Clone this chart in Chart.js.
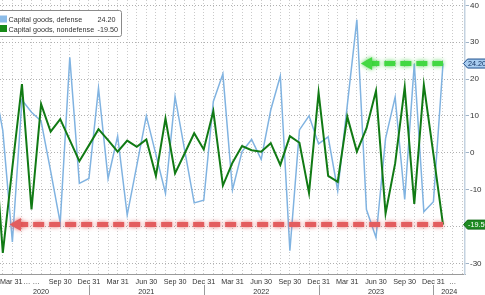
<!DOCTYPE html>
<html><head><meta charset="utf-8">
<script src="https://cdn.jsdelivr.net/npm/chart.js@4"></script>
<style>html,body{margin:0;padding:0;background:#fff;overflow:hidden}</style>
</head><body>
<canvas id="c" width="485" height="295"></canvas>
<script>
// ---- data ----
const months = ["2020-02","2020-03","2020-04","2020-05","2020-06","2020-07","2020-08","2020-09","2020-10","2020-11","2020-12",
"2021-01","2021-02","2021-03","2021-04","2021-05","2021-06","2021-07","2021-08","2021-09","2021-10","2021-11","2021-12",
"2022-01","2022-02","2022-03","2022-04","2022-05","2022-06","2022-07","2022-08","2022-09","2022-10","2022-11","2022-12",
"2023-01","2023-02","2023-03","2023-04","2023-05","2023-06","2023-07","2023-08","2023-09","2023-10","2023-11","2023-12",
"2024-01"];
const defense = [20, 6, -24.2, 14.3, 11, 8.6, -5, -19, 25.9, -8.3, -7,
  17.5, -7, 4.5, -16.9, -3.5, 10, -0.5, -11, 15.2, 0.8, -13.6, -12.9,
  13.9, 21.4, -10.1, 0.3, 3.6, -1.8, 11.6, 20.8, -26.6, 6.2, 10, 2.4,
  4.3, -10.3, 12.9, 36.1, -15.4, -23, 3.9, 15.1, -12.7, 24.1, -16, -13.3,
  24.2];
const nondefense = [9, -27.2, -4, 18.6, -15.4, 13.2, 5.7, 9.1, 3.4, -2.3, 2.0,
  6.4, 3.4, 0.3, 3.3, 1.6, 3.6, -6.3, 9.3, -5.6, -0.2, 5.3, 0.9,
  11.3, -8.9, -2.7, 1.8, 0.7, 0.3, 2.6, -3.3, 4.5, 2.7, -10.9, 16.3,
  -6.3, -7.9, 9.8, 0.3, 6.6, 16.8, -16.5, -2.9, 17.8, -13.9, 18.4, -0.4,
  -19.5];
const seriesNames = ["Capital goods, defense", "Capital goods, nondefense"];
const quarterTickLabels = {
  "2020-03":"Mar 31","2020-06":"\u2026 \u2026","2020-09":"Sep 30","2020-12":"Dec 31",
  "2021-03":"Mar 31","2021-06":"Jun 30","2021-09":"Sep 30","2021-12":"Dec 31",
  "2022-03":"Mar 31","2022-06":"Jun 30","2022-09":"Sep 30","2022-12":"Dec 31",
  "2023-03":"Mar 31","2023-06":"Jun 30","2023-09":"Sep 30","2023-12":"Dec 31",
  "2024-02":"\u2026"
};
const yearLabels = ["2020","2021","2022","2023","2024"];
// arrow annotations (start month index) pointing at latest values
const arrowStartDefense = 40.2;
const arrowStartNondefense = 3.5;

// ---- helpers ----
function monthIndex(m){ const [y,mo]=m.split("-").map(Number); return (y-2020)*12 + (mo-1); }
const xs = months.map(monthIndex);
const lastX = xs[xs.length-1];
const lastDef = defense[defense.length-1];
const lastNon = nondefense[nondefense.length-1];

const BLUE = "#80b3e1", GREEN = "#117a14";
const FONT = '"Liberation Sans", Arial, sans-serif';
const SQUEEZE = 0.9;

function text(ctx, s, x, y){ ctx.fillText(s, x, y, ctx.measureText(s).width * SQUEEZE); }

const glowPlugin = {
  id:'glow',
  beforeDatasetDraw(chart,args){ const ds=chart.data.datasets[args.index]; if(ds.glowColor){ const c=chart.ctx; c.save(); c.shadowColor=ds.glowColor; c.shadowBlur=4; } },
  afterDatasetDraw(chart,args){ const ds=chart.data.datasets[args.index]; if(ds.glowColor){ chart.ctx.restore(); } }
};

const overlayPlugin = {
  id:'overlay',
  afterDraw(chart){
    const ctx = chart.ctx, xS = chart.scales.x, yS = chart.scales.y, area = chart.chartArea;
    ctx.save();
    // quarter tick labels
    ctx.font = '8px ' + FONT; ctx.fillStyle = '#333'; ctx.textAlign='left'; ctx.textBaseline='alphabetic';
    Object.keys(quarterTickLabels).forEach(k => {
      const s = quarterTickLabels[k];
      const w = ctx.measureText(s).width * SQUEEZE;
      let x = xS.getPixelForValue(monthIndex(k)) - w/2;
      x = Math.max(x, 0);
      ctx.fillText(s, x, 284, w);
    });
    // year labels + separators
    ctx.textAlign='center';
    yearLabels.forEach(y => {
      const Y = Number(y);
      const s = Math.max(monthIndex((Y-1)+"-12"), xs[0]);
      const e = Math.min(monthIndex(Y+"-12"), xS.max);
      text(ctx, y, xS.getPixelForValue((s+e)/2), 293.5);
    });
    ctx.strokeStyle = '#9a9a9a'; ctx.lineWidth = 1;
    yearLabels.slice(0,-1).forEach(y => {
      const px = Math.round(xS.getPixelForValue(monthIndex(y+"-12"))) + 0.5;
      ctx.beginPath(); ctx.moveTo(px, 285); ctx.lineTo(px, 295); ctx.stroke();
    });
    // value tags on right axis
    function tag(yv, fill, stroke, s, tc){
      const py = yS.getPixelForValue(yv), x = area.right - 1.5, h = 9, w = 30;
      ctx.beginPath();
      ctx.moveTo(x, py); ctx.lineTo(x+4, py-h/2); ctx.lineTo(x+w, py-h/2); ctx.lineTo(x+w, py+h/2); ctx.lineTo(x+4, py+h/2); ctx.closePath();
      ctx.fillStyle = fill; ctx.fill(); ctx.strokeStyle = stroke; ctx.lineWidth = 1; ctx.stroke();
      ctx.fillStyle = tc; ctx.font = '8px ' + FONT; ctx.textAlign='left'; ctx.textBaseline='middle';
      text(ctx, s, x+4.5, py+0.5);
    }
    tag(lastDef, '#a9cdf0', '#1d4f8e', lastDef.toFixed(2), '#0c2c5e');
    tag(lastNon, '#1f8b24', '#15691a', lastNon.toFixed(2), '#ffffff');
    // legend box
    ctx.fillStyle = '#fff'; ctx.strokeStyle = '#8a8a8a'; ctx.lineWidth = 1;
    ctx.beginPath(); ctx.roundRect(-2.5, 10.5, 124, 26, 2); ctx.fill(); ctx.stroke();
    ctx.fillStyle = '#8cbce8'; ctx.fillRect(0, 15.5, 7, 7);
    ctx.fillStyle = '#178a17'; ctx.fillRect(0, 25, 7, 7);
    ctx.font = '8px ' + FONT; ctx.fillStyle = '#333'; ctx.textAlign='left'; ctx.textBaseline='alphabetic';
    text(ctx, seriesNames[0], 8.5, 22.3);
    text(ctx, seriesNames[1], 8.5, 31.7);
    text(ctx, lastDef.toFixed(2), 97.5, 22.3);
    text(ctx, lastNon.toFixed(2), 97.5, 31.7);
    ctx.restore();
  }
};

const arrowDs = (x0, y, color, glow) => ({
  data: [{x:x0, y:y}, {x:lastX, y:y}],
  borderColor: color, backgroundColor: color, borderWidth: 5, borderDash: [11,5], borderCapStyle:'butt',
  pointStyle: 'triangle', pointRotation: -90,
  pointRadius: c => c.dataIndex === 0 ? 7.5 : 0, pointHoverRadius: 0,
  pointBackgroundColor: color, pointBorderColor: color, pointBorderWidth: 0,
  glowColor: glow, order: 0
});

new Chart(document.getElementById('c'), {
  type: 'line',
  data: {
    datasets: [
      arrowDs(arrowStartDefense, lastDef, '#43d843', 'rgba(40,200,40,0.8)'),
      arrowDs(arrowStartNondefense, lastNon, '#e35d5f', 'rgba(220,60,60,0.7)'),
      { label: seriesNames[1], data: xs.map((x,k)=>({x, y: nondefense[k]})), borderColor: GREEN, borderWidth: 2, pointRadius: 0, tension: 0, order: 1 },
      { label: seriesNames[0], data: xs.map((x,k)=>({x, y: defense[k]})), borderColor: BLUE, borderWidth: 1.5, pointRadius: 0, tension: 0, order: 2 }
    ]
  },
  options: {
    responsive: false, animation: false, devicePixelRatio: 1,
    layout: { padding: 0, autoPadding: false },
    plugins: { legend: { display: false }, tooltip: { enabled: false } },
    scales: {
      x: {
        type: 'linear', min: 1.707, max: 50.3,
        afterFit(s){ s.height = 21; s.paddingLeft = 0; s.paddingRight = 0; },
        ticks: { display: false, stepSize: 1, autoSkip: false, includeBounds: false, maxTicksLimit: 500 },
        grid: { color: '#cacaca', drawTicks: false },
        border: { display: true, color: '#9a9a9a', width: 1, dash: [1,2] }
      },
      y: {
        position: 'right', min: -32.9, max: 41.44,
        afterFit(s){ s.width = 20; s.paddingTop = 0; s.paddingBottom = 0; },
        ticks: { stepSize: 10, includeBounds: false, padding: 1, color: '#333', font: { family: FONT, size: 8 } },
        grid: { color: '#b0b0b0', tickLength: 4, tickColor: '#9fb2c6', drawTicks: true },
        border: { display: true, color: '#c3d2e0', width: 1.5, dash: [1,2] }
      }
    }
  },
  plugins: [glowPlugin, overlayPlugin]
});
</script>
</body></html>
